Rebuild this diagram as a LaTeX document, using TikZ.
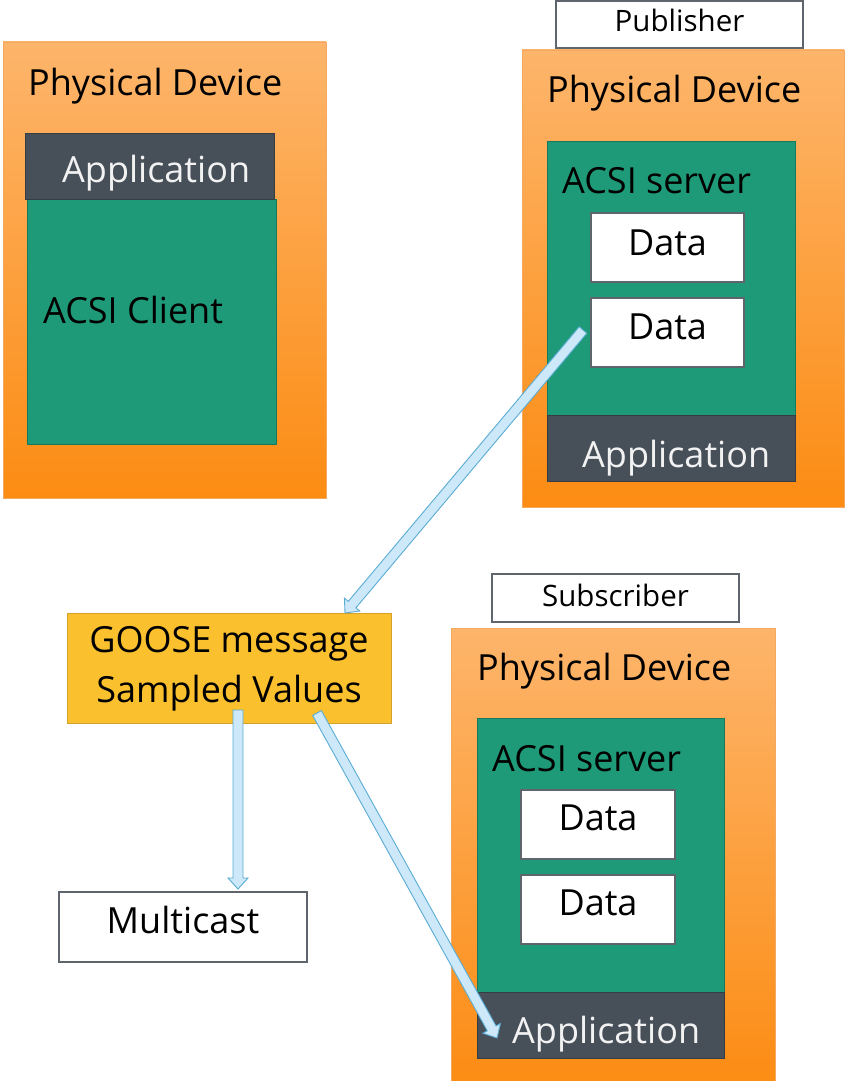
\documentclass[tikz,border=0pt]{standalone}
\usepackage{fontspec}
\setmainfont{Open Sans}
\usetikzlibrary{calc}
\definecolor{orangeT}{HTML}{FDB56B}
\definecolor{orangeB}{HTML}{FC8C13}
\definecolor{orangeE}{HTML}{F5A860}
\definecolor{greenF}{HTML}{1E9A78}
\definecolor{greenD}{HTML}{16785D}
\definecolor{darkF}{HTML}{474F59}
\definecolor{darkD}{HTML}{363C44}
\definecolor{goldF}{HTML}{FBC02D}
\definecolor{goldD}{HTML}{D4A22A}
\definecolor{boxD}{HTML}{5F656C}
\definecolor{blueF}{HTML}{CCE8F9}
\definecolor{blueD}{HTML}{5AACD4}
\definecolor{appT}{HTML}{F2F2F2}
\newcommand{\bigtext}{\fontsize{36}{43}\selectfont}
\newcommand{\smalltext}{\fontsize{29.5}{35}\selectfont}
\newcommand{\blockarrow}[2]{%
  \path let \p1=(#1), \p2=(#2) in coordinate (tmpA) at (\p1) coordinate (tmpB) at (\p2);
  \coordinate (tmpH) at ($(tmpB)!11pt!(tmpA)$);
  \draw[arrowstyle] ($(tmpA)!5pt!90:(tmpB)$) -- ($(tmpH)!5pt!90:(tmpB)$) -- ($(tmpH)!10pt!90:(tmpB)$) -- (tmpB)
    -- ($(tmpH)!10pt!-90:(tmpB)$) -- ($(tmpH)!5pt!-90:(tmpB)$) -- ($(tmpA)!5pt!-90:(tmpB)$) -- cycle;
}
\tikzset{
  rbox/.style={anchor=north west, inner sep=0pt, outer sep=0pt},
  orangebox/.style={rbox, draw=orangeE, line width=0.6pt, top color=orangeT, bottom color=orangeB},
  greenbox/.style={rbox, draw=greenD, line width=1pt, fill=greenF},
  appbox/.style={rbox, draw=darkD, line width=1pt, fill=darkF},
  whitebox/.style={rbox, draw=boxD, line width=1.5pt, fill=white},
  goldbox/.style={rbox, draw=goldD, line width=1pt, fill=goldF},
  lbl/.style={anchor=base west, inner sep=0pt, font=\bigtext, text=black},
  applbl/.style={anchor=base west, inner sep=0pt, font=\bigtext, text=appT},
  clbl/.style={anchor=base, inner sep=0pt, font=\bigtext, text=black},
  slbl/.style={anchor=base, inner sep=0pt, font=\smalltext, text=black},
  arrowstyle/.style={draw=blueD, line width=0.9pt, fill=blueF, line join=miter}
}
\begin{document}
\begin{tikzpicture}[x=1pt,y=-1pt]
\useasboundingbox (0,0) rectangle (846,1081);
% ---------- left device ----------
\node[orangebox, minimum width=323pt, minimum height=456pt] (pdL) at (3,42) {};
\node[greenbox, minimum width=249pt, minimum height=245pt] (clientL) at (27,199) {};
\node[appbox, minimum width=249pt, minimum height=66pt] (appL) at (25,133) {};
\node[lbl] (tpdL) at (28,95) {Physical Device};
\node[applbl] (tappL) at (62,182) {Application};
\node[lbl] (tclient) at (43,323) {ACSI Client};
% ---------- publisher device ----------
\node[whitebox, minimum width=247pt, minimum height=47pt] (pub) at (556,1) {};
\node[slbl] (tpub) at (679.5,32) {Publisher};
\node[orangebox, minimum width=322pt, minimum height=457pt] (pdP) at (522,50) {};
\node[greenbox, minimum width=248pt, minimum height=274pt] (srvP) at (547,141) {};
\node[appbox, minimum width=248pt, minimum height=66pt] (appP) at (547,415) {};
\node[whitebox, minimum width=153pt, minimum height=69pt] (d1P) at (591,213) {};
\node[whitebox, minimum width=153pt, minimum height=69pt] (d2P) at (591,298) {};
\node[lbl] (tpdP) at (547,102) {Physical Device};
\node[lbl] (tsrvP) at (562,193) {ACSI server};
\node[clbl] (td1P) at (667.5,255) {Data};
\node[clbl] (td2P) at (667.5,339) {Data};
\node[applbl] (tappP) at (582,467) {Application};
% ---------- subscriber device ----------
\node[whitebox, minimum width=247pt, minimum height=48pt] (sub) at (492,574) {};
\node[slbl] (tsub) at (615.5,606) {Subscriber};
\node[orangebox, minimum width=324pt, minimum height=460pt] (pdS) at (451,628) {};
\node[greenbox, minimum width=247pt, minimum height=274pt] (srvS) at (477,718) {};
\node[appbox, minimum width=247pt, minimum height=66pt] (appS) at (477,992) {};
\node[whitebox, minimum width=154pt, minimum height=69pt] (d1S) at (521,790) {};
\node[whitebox, minimum width=154pt, minimum height=69pt] (d2S) at (521,875) {};
\node[lbl] (tpdS) at (477,680) {Physical Device};
\node[lbl] (tsrvS) at (492,771) {ACSI server};
\node[clbl] (td1S) at (598,830) {Data};
\node[clbl] (td2S) at (598,915) {Data};
\node[applbl] (tappS) at (512,1043) {Application};
% ---------- messages ----------
\node[goldbox, minimum width=324pt, minimum height=110pt] (goose) at (67,613) {};
\node[clbl] (tgoose1) at (229,652) {GOOSE message};
\node[clbl] (tgoose2) at (229,702) {Sampled Values};
\node[whitebox, minimum width=248pt, minimum height=70pt] (mc) at (59,892) {};
\node[clbl] (tmc) at (183,933) {Multicast};
% ---------- arrows ----------
\coordinate (a1s) at (583,330);
\coordinate (a1e) at (345,613);
\coordinate (a2s) at (238,710);
\coordinate (a2e) at (238,889);
\coordinate (a3s) at (317,713);
\coordinate (a3e) at (497,1038);
\blockarrow{a1s}{a1e}
\blockarrow{a2s}{a2e}
\blockarrow{a3s}{a3e}
\end{tikzpicture}
\end{document}
